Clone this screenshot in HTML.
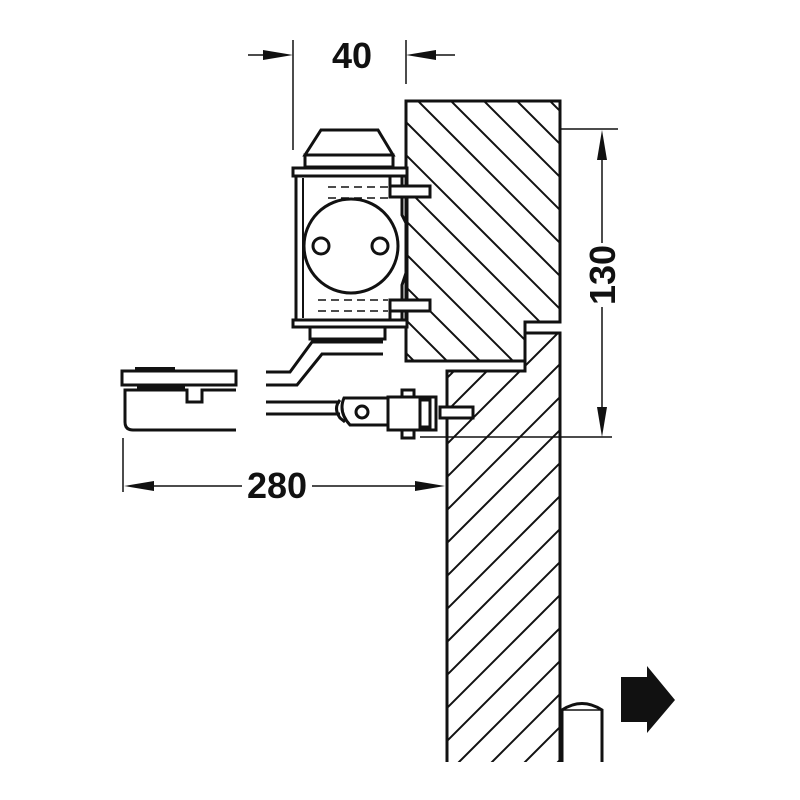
<!DOCTYPE html>
<html><head><meta charset="utf-8"><style>html,body{margin:0;padding:0;background:#fff;width:800px;height:800px;overflow:hidden}svg{display:block}</style></head>
<body>
<svg width="800" height="800" viewBox="0 0 800 800" xmlns="http://www.w3.org/2000/svg" overflow="hidden">
<defs>
<clipPath id="cf"><path d="M406,101 H560 V322 H525 V361 H406 Z"/></clipPath>
<clipPath id="cd"><path d="M447,762 V371 H525 V333 H560 V762 Z"/></clipPath>
</defs>
<g stroke="#111" stroke-width="2" clip-path="url(#cf)">
<line x1="143" y1="90" x2="433" y2="380"/>
<line x1="176" y1="90" x2="466" y2="380"/>
<line x1="209" y1="90" x2="499" y2="380"/>
<line x1="242" y1="90" x2="532" y2="380"/>
<line x1="275" y1="90" x2="565" y2="380"/>
<line x1="308" y1="90" x2="598" y2="380"/>
<line x1="341" y1="90" x2="631" y2="380"/>
<line x1="374" y1="90" x2="664" y2="380"/>
<line x1="407" y1="90" x2="697" y2="380"/>
<line x1="440" y1="90" x2="730" y2="380"/>
<line x1="473" y1="90" x2="763" y2="380"/>
<line x1="506" y1="90" x2="796" y2="380"/>
<line x1="539" y1="90" x2="829" y2="380"/>
</g>
<g stroke="#111" stroke-width="2" clip-path="url(#cd)">
<line x1="440" y1="352" x2="570" y2="222"/>
<line x1="440" y1="385" x2="570" y2="255"/>
<line x1="440" y1="418" x2="570" y2="288"/>
<line x1="440" y1="451" x2="570" y2="321"/>
<line x1="440" y1="484" x2="570" y2="354"/>
<line x1="440" y1="517" x2="570" y2="387"/>
<line x1="440" y1="550" x2="570" y2="420"/>
<line x1="440" y1="583" x2="570" y2="453"/>
<line x1="440" y1="616" x2="570" y2="486"/>
<line x1="440" y1="649" x2="570" y2="519"/>
<line x1="440" y1="682" x2="570" y2="552"/>
<line x1="440" y1="715" x2="570" y2="585"/>
<line x1="440" y1="748" x2="570" y2="618"/>
<line x1="440" y1="781" x2="570" y2="651"/>
<line x1="447" y1="807" x2="570" y2="684"/>
<line x1="480" y1="807" x2="570" y2="717"/>
<line x1="513" y1="807" x2="570" y2="750"/>
</g>
<g fill="none" stroke="#111" stroke-width="3">
<path d="M406,101 H560 V322 H525 V361 H406 Z"/>
<path d="M447,762 V371 H525 V333 H560 V762"/>
</g>
<g stroke="#111" stroke-width="1.5" fill="none">
<line x1="293" y1="40" x2="293" y2="150"/>
<line x1="406" y1="40" x2="406" y2="84"/>
<line x1="248" y1="55" x2="280" y2="55"/>
<line x1="420" y1="55" x2="455" y2="55"/>
<line x1="560" y1="129" x2="618" y2="129"/>
<line x1="420" y1="437" x2="612" y2="437"/>
<line x1="602" y1="140" x2="602" y2="243"/>
<line x1="602" y1="307" x2="602" y2="425"/>
<line x1="123" y1="438" x2="123" y2="492"/>
<line x1="135" y1="486" x2="242" y2="486"/>
<line x1="312" y1="486" x2="433" y2="486"/>
</g>
<g fill="#111">
<polygon points="293,55 263,50 263,60"/>
<polygon points="406,55 436,50 436,60"/>
<polygon points="602,130 597,160 607,160"/>
<polygon points="602,437 597,407 607,407"/>
<polygon points="124,486 154,481 154,491"/>
<polygon points="445,486 415,481 415,491"/>
</g>
<g font-family="Liberation Sans, sans-serif" font-weight="bold" font-size="36" fill="#111" text-anchor="middle">
<text x="352" y="68">40</text>
<text x="277" y="498">280</text>
<text x="602" y="288" transform="rotate(-90 602 275)">130</text>
</g>
<g fill="#fff" stroke="#111" stroke-width="3">
<path d="M321,130 H378 L393,155 H305 Z"/>
<rect x="305" y="155" width="88" height="12"/>
<rect x="293" y="168" width="114" height="8"/>
<rect x="293" y="320" width="114" height="7"/>
<rect x="310" y="327" width="75" height="12"/>
<line x1="296" y1="176" x2="296" y2="320"/>
<line x1="303" y1="178" x2="303" y2="318" stroke-width="2"/>
<path d="M390,176 V190 M402,176 V215 L407,225 M402,320 V285 L407,270 M390,320 V305" fill="none"/>
<line x1="407" y1="176" x2="407" y2="320"/>
<circle cx="351" cy="246" r="47"/>
<circle cx="321" cy="246" r="8"/>
<circle cx="380" cy="246" r="8"/>
<rect x="390" y="186" width="40" height="11"/>
<rect x="390" y="300" width="40" height="11"/>
</g>
<g stroke="#111" stroke-width="1.5" stroke-dasharray="8,5">
<line x1="328" y1="187" x2="388" y2="187"/>
<line x1="328" y1="198" x2="388" y2="198"/>
<line x1="318" y1="300" x2="388" y2="300"/>
<line x1="318" y1="311" x2="388" y2="311"/>
</g>
<path d="M266,372 H290 L312,342 H383 M266,385 H297 L322,354 H383" fill="none" stroke="#111" stroke-width="3"/>
<g fill="#fff" stroke="#111" stroke-width="3">
<path d="M266,402 H340 M266,414 H340" fill="none"/>
<path d="M340,400 Q333,408 340,418 L345,422" fill="none"/>
<path d="M344,398 H388 V425 H350 Q338,412 344,398 Z"/>
<circle cx="362" cy="412" r="6"/>
<rect x="402" y="390" width="12" height="8"/>
<rect x="402" y="430" width="12" height="8"/>
<rect x="388" y="397" width="48" height="33"/>
<rect x="420" y="400" width="10" height="27"/>
<rect x="440" y="407" width="33" height="11"/>
</g>
<g fill="#fff" stroke="#111" stroke-width="3">
<rect x="122" y="371" width="114" height="14"/>
<path d="M236,390 H202 V402 H187 V390 H125 V422 Q125,430 133,430 H236"/>
</g>
<rect x="135" y="367" width="40" height="5" fill="#111"/>
<rect x="137" y="386" width="48" height="4" fill="#111"/>
<path d="M562,762 V710 Q582,697 602,710 V762" fill="none" stroke="#111" stroke-width="3"/>
<line x1="562" y1="710" x2="602" y2="710" stroke="#111" stroke-width="1.5"/>
<polygon points="621,677 647,677 647,666 675,700 647,733 647,722 621,722" fill="#111"/>
</svg>
</body></html>
